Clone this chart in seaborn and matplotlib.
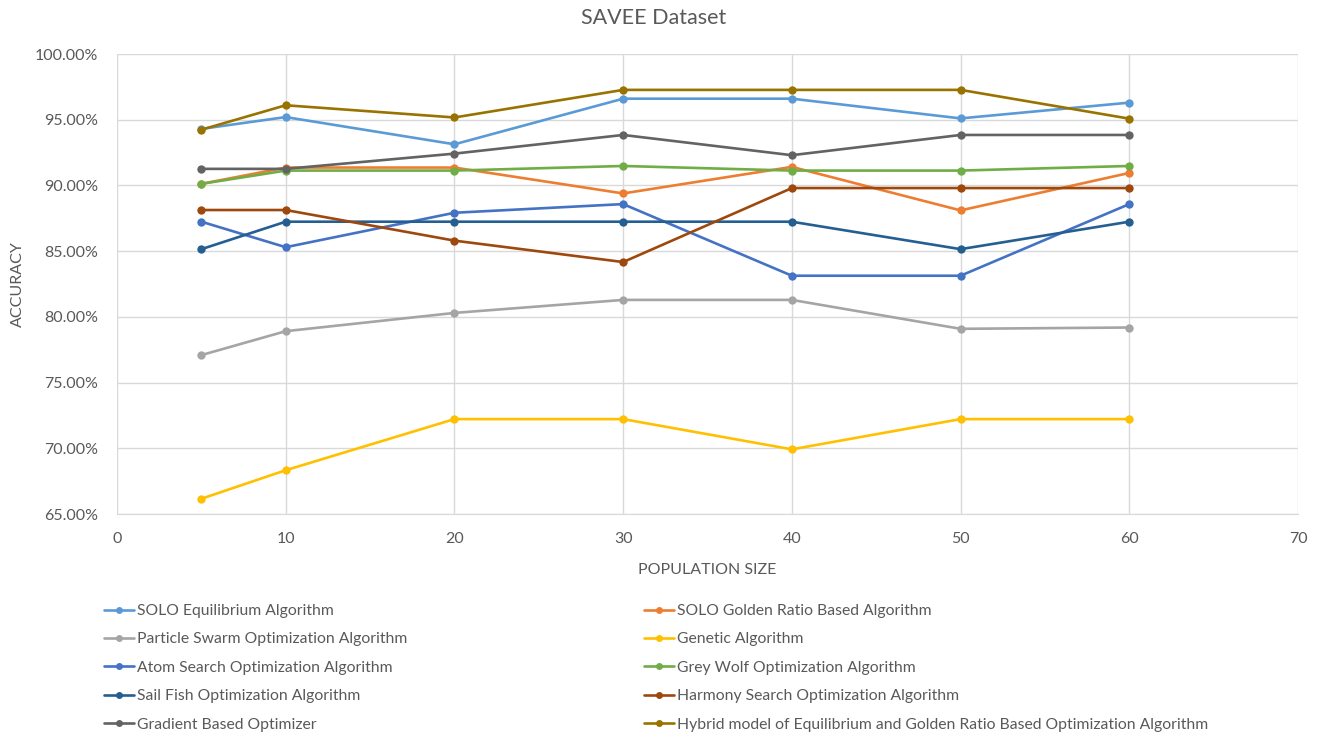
import matplotlib
matplotlib.use("Agg")
import matplotlib.pyplot as plt
import seaborn as sns
import pandas as pd
from matplotlib.ticker import FuncFormatter, MultipleLocator

population = [5, 10, 20, 30, 40, 50, 60]
solo_ea = [94.30, 95.20, 93.13, 96.60, 96.60, 95.10, 96.30]
solo_gr = [90.12, 91.36, 91.36, 89.39, 91.41, 88.10, 90.95]
pso = [77.09, 78.91, 80.30, 81.29, 81.29, 79.09, 79.19]
ga = [66.16, 68.33, 72.22, 72.22, 69.92, 72.22, 72.22]
aso = [87.24, 85.30, 87.92, 88.58, 83.13, 83.13, 88.58]
gwo = [90.12, 91.13, 91.13, 91.48, 91.13, 91.13, 91.48]
sfo = [85.15, 87.24, 87.24, 87.24, 87.24, 85.15, 87.24]
hso = [88.13, 88.13, 85.80, 84.17, 89.80, 89.80, 89.80]
gbo = [91.26, 91.26, 92.42, 93.84, 92.30, 93.84, 93.84]
hybrid = [94.24, 96.10, 95.17, 97.27, 97.27, 97.27, 95.08]

names = [
    "SOLO Equilibrium Algorithm",
    "SOLO Golden Ratio Based Algorithm",
    "Particle Swarm Optimization Algorithm",
    "Genetic Algorithm",
    "Atom Search Optimization Algorithm",
    "Grey Wolf Optimization Algorithm",
    "Sail Fish Optimization Algorithm",
    "Harmony Search Optimization Algorithm",
    "Gradient Based Optimizer",
    "Hybrid model of Equilibrium and Golden Ratio Based Optimization Algorithm",
]
series = [solo_ea, solo_gr, pso, ga, aso, gwo, sfo, hso, gbo, hybrid]
colors = ["#5B9BD5", "#ED7D31", "#A5A5A5", "#FFC000", "#4472C4",
          "#70AD47", "#255E91", "#9E480E", "#636363", "#997300"]

rows = []
for n, s in zip(names, series):
    for x, v in zip(population, s):
        rows.append({"pop": x, "acc": v, "algo": n})
df = pd.DataFrame(rows)

sns.set_style("white")
plt.rcParams["font.family"] = ["Lato", "DejaVu Sans"]
txt = "#595959"

fig = plt.figure(figsize=(13.19, 7.36), dpi=100)
ax = fig.add_axes([117 / 1319, 1 - 514 / 736, (1298 - 117) / 1319, (514 - 54) / 736])

sns.lineplot(data=df, x="pop", y="acc", hue="algo", hue_order=names,
             palette=colors, marker="o", markersize=6, markeredgewidth=0,
             linewidth=1.9, ax=ax, legend=True, zorder=3)
handles, labels = ax.get_legend_handles_labels()
ax.get_legend().remove()

ax.set_xlim(0, 70)
ax.set_ylim(65, 100)
ax.xaxis.set_major_locator(MultipleLocator(10))
ax.yaxis.set_major_locator(MultipleLocator(5))
ax.yaxis.set_major_formatter(FuncFormatter(lambda v, p: f"{v:.2f}%"))
ax.grid(True, color="#D9D9D9", linewidth=1)
for sp in ["top", "right", "left"]:
    ax.spines[sp].set_visible(False)
ax.spines["bottom"].set_color("#D9D9D9")
ax.tick_params(axis="y", length=0, labelsize=11.5, colors=txt, pad=13.5)
ax.tick_params(axis="x", length=0, labelsize=11.5, colors=txt, pad=13)
ax.set_xlabel("POPULATION SIZE", fontsize=11.5, color=txt, labelpad=12)
ax.set_ylabel("ACCURACY", fontsize=11.5, color=txt, labelpad=7)
fig.text(654 / 1319, 1 - 18 / 736, "SAVEE Dataset", fontsize=15.5, color=txt,
         ha="center", va="center")

leg_kw = dict(frameon=False, fontsize=11.3, labelcolor=txt, handlelength=1.9,
              handletextpad=0.2, labelspacing=0.92, borderaxespad=0, borderpad=0)
h1 = [handles[i] for i in range(0, 10, 2)]
l1 = [labels[i] for i in range(0, 10, 2)]
h2 = [handles[i] for i in range(1, 10, 2)]
l2 = [labels[i] for i in range(1, 10, 2)]
lg1 = fig.legend(h1, l1, loc="upper left", bbox_to_anchor=(104 / 1319, 1 - 604 / 736), **leg_kw)
lg2 = fig.legend(h2, l2, loc="upper left", bbox_to_anchor=(644 / 1319, 1 - 604 / 736), **leg_kw)
for lg in (lg1, lg2):
    for ln in lg.get_lines():
        ln.set_markersize(5)
        ln.set_linewidth(1.9)

fig.savefig("out.png", dpi=100)
